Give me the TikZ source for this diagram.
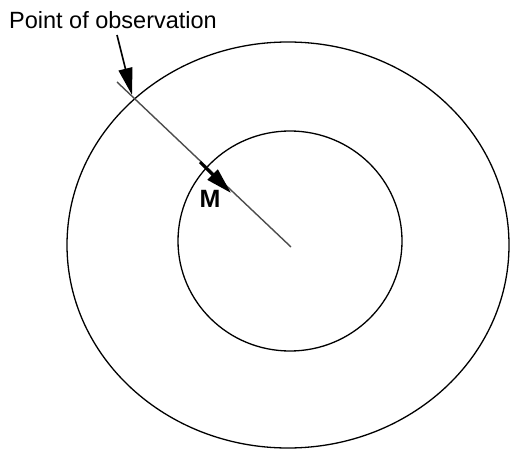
\documentclass[tikz,border=0pt]{standalone}
\usepackage{fontspec}
\setmainfont{Liberation Sans}
\usetikzlibrary{arrows.meta}
\begin{document}
\begin{tikzpicture}[x=1pt,y=1pt,
  ring/.style={draw=black,line width=1.3pt},
  ray/.style={draw=black!70,line width=1.4pt},
  bigarrow/.style={draw=black,line width=1.6pt,-{Triangle[length=27pt,width=14pt]}},
  marrow/.style={draw=black,line width=3pt,-{Triangle[length=26pt,width=14pt]}},
  lbl/.style={inner sep=0pt,font=\fontsize{23.5}{26}\selectfont}]
\useasboundingbox (0,0) rectangle (510,450);
\coordinate (oc) at (288,205);
\coordinate (ic) at (290,209);
\draw[ring] (oc) ellipse [x radius=221, y radius=203];
\draw[ring] (ic) ellipse [x radius=112, y radius=110];
\coordinate (rs) at (117,368);
\coordinate (re) at (291,203);
\draw[ray] (rs) -- (re);
\coordinate (ms) at (200,288);
\coordinate (mt) at (231,257);
\draw[marrow] (ms) -- (mt);
\node[lbl,font=\fontsize{25}{28}\selectfont\bfseries] (M) at (210,251) {M};
\node[lbl] (pobs) at (113,430) {Point of observation};
\coordinate (pt) at (132,355);
\draw[bigarrow] (117,415) -- (pt);
\end{tikzpicture}
\end{document}
